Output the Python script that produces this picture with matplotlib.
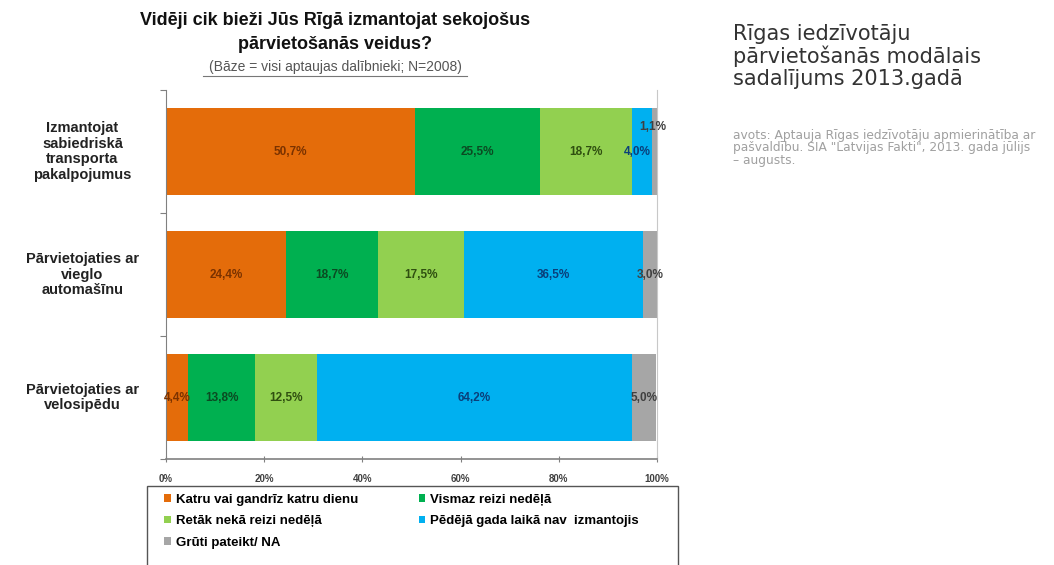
import matplotlib.pyplot as plt
from matplotlib.patches import Rectangle
import numpy as np

# survey: how often Riga residents use each mode of travel (%)
categories = ["Izmantojat\nsabiedriskā\ntransporta\npakalpojumus",
              "Pārvietojaties ar\nvieglo\nautomašīnu",
              "Pārvietojaties ar\nvelosipēdu"]
series_names = ["Katru vai gandrīz katru dienu",
                "Vismaz reizi nedēļā",
                "Retāk nekā reizi nedēļā",
                "Pēdējā gada laikā nav  izmantojis",
                "Grūti pateikt/ NA"]
daily = [50.7, 24.4, 4.4]
weekly = [25.5, 18.7, 13.8]
rarely = [18.7, 17.5, 12.5]
not_used = [4.0, 36.5, 64.2]
dont_know = [1.1, 3.0, 5.0]
xticks = [0, 20, 40, 60, 80, 100]

colors = ["#E46C0A", "#00B050", "#92D050", "#00B0F0", "#A6A6A6"]
label_colors = ["#7A3200", "#0B4A22", "#2F4F10", "#0A3F7A", "#404040"]

plt.rcParams['font.family'] = ['Liberation Sans', 'DejaVu Sans']

fig = plt.figure(figsize=(10.54, 5.65), dpi=100)
ax = fig.add_axes([0.1575, 0.1876, 0.4658, 0.6531])

data = [daily, weekly, rarely, not_used, dont_know]
y = np.arange(len(categories))
left = np.zeros(len(categories))
bars = []
for vals, name, col in zip(data, series_names, colors):
    b = ax.barh(y, vals, left=left, height=0.7, color=col, label=name)
    bars.append(b)
    left = left + np.array(vals)

# value labels inside the segments
starts = np.zeros(len(categories))
for i, (vals, lc) in enumerate(zip(data, label_colors)):
    for j, v in enumerate(vals):
        txt = f"{v:.1f}%".replace(".", ",")
        xc = starts[j] + v / 2
        yc = y[j]
        if i == 4 and j == 0:
            # tiny slice: label sits above the bar end
            xc, yc = 99.2, y[j] - 0.2
        elif i == 3 and j == 0:
            xc = starts[j] + v / 2 - 1.0
        ax.text(xc, yc, txt, ha="center", va="center", fontsize=8.5,
                fontweight="bold", color=lc)
    starts = starts + np.array(vals)

ax.set_xlim(0, 100)
ax.set_ylim(2.5, -0.5)
ax.set_xticks(xticks)
ax.set_xticklabels([f"{t}%" for t in xticks], fontsize=7, fontweight="bold",
                   color="#404040")
ax.set_yticks([-0.5, 0.5, 1.5, 2.5])
ax.set_yticklabels([])
ax.tick_params(axis="x", direction="inout", length=5, color="#808080", pad=8)
ax.tick_params(axis="y", direction="out", length=4, color="#808080")
ax.spines["top"].set_visible(False)
ax.spines["right"].set_color("#C8C8C8")
ax.spines["left"].set_color("#808080")
ax.spines["bottom"].set_color("#808080")
ax.spines["bottom"].set_linewidth(1.2)

for j, cat in enumerate(categories):
    ax.text(-17.0, y[j], cat, ha="center", va="center", fontsize=10.5,
            fontweight="bold", color="#222222", linespacing=1.15)

# titles
fig.text(0.318, 0.963, "Vidēji cik bieži Jūs Rīgā izmantojat sekojošus",
         ha="center", va="center", fontsize=13, fontweight="bold", color="#111111")
fig.text(0.318, 0.922, "pārvietošanās veidus?", ha="center", va="center",
         fontsize=13, fontweight="bold", color="#111111")
fig.text(0.318, 0.882, "(Bāze = visi aptaujas dalībnieki; N=2008)",
         ha="center", va="center", fontsize=10, color="#555555")
fig.add_artist(plt.Line2D([0.193, 0.443], [0.866, 0.866], color="#777777",
                          lw=0.8, transform=fig.transFigure))

# legend below the plot, filled row by row
order = [0, 2, 4, 1, 3]
leg = fig.legend(handles=[bars[k] for k in order],
                 labels=[series_names[k] for k in order],
                 loc="upper left", bbox_to_anchor=(0.146, 0.145), ncol=2,
                 frameon=False, prop={"weight": "bold", "size": 9.5},
                 handlelength=0.5, handleheight=0.5, handletextpad=0.35,
                 columnspacing=4.6, labelspacing=0.72, borderpad=0.3)
fig.add_artist(Rectangle((0.139, -0.02), 0.504, 0.159, transform=fig.transFigure,
                         fill=False, edgecolor="#555555", lw=1.0))

# side note
fig.text(0.695, 0.958, "Rīgas iedzīvotāju\npārvietošanās modālais\nsadalījums 2013.gadā",
         ha="left", va="top", fontsize=15, color="#333333",
         family="DejaVu Sans", linespacing=1.12)
fig.text(0.695, 0.772,
         "avots: Aptauja Rīgas iedzīvotāju apmierinātība ar\n"
         "pašvaldību. SIA \"Latvijas Fakti\", 2013. gada jūlijs\n– augusts.",
         ha="left", va="top", fontsize=8.8, color="#A0A0A0",
         family="DejaVu Sans", linespacing=0.95)

fig.savefig("out.png", dpi=100)
